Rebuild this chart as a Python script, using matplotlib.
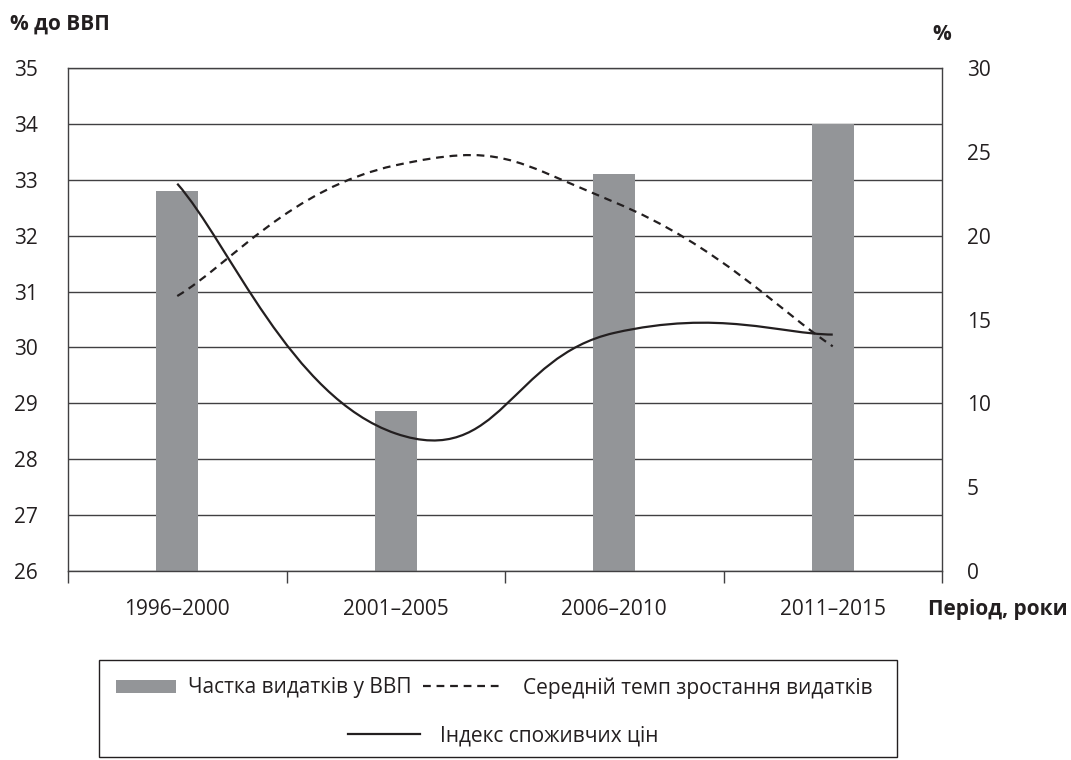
import matplotlib
matplotlib.use("Agg")
import matplotlib.pyplot as plt
from matplotlib.path import Path
from matplotlib.patches import PathPatch, Patch, Rectangle
from matplotlib.lines import Line2D

plt.rcParams['font.family'] = ['Open Sans', 'DejaVu Sans']

periods = ["1996–2000", "2001–2005", "2006–2010", "2011–2015"]
share_gdp = [32.8, 28.87, 33.1, 34.0]          # left axis, % до ВВП
growth_rate = [16.4, 24.2, 22.0, 13.4]         # right axis, %
cpi_index = [23.1, 8.2, 14.2, 14.1]            # right axis, %

bar_color = '#939598'
ink = '#231f20'
grid_color = '#414042'
fs = 15


def smooth_path(xs, ys, k=0.24):
    # bezier smoothing like the office chart "smoothed line"
    verts = [(xs[0], ys[0])]
    codes = [Path.MOVETO]
    n = len(xs)
    for i in range(n - 1):
        a = i - 1 if i > 0 else i
        b = i + 2 if i + 2 < n else i + 1
        c1 = (xs[i] + k * (xs[i + 1] - xs[a]), ys[i] + k * (ys[i + 1] - ys[a]))
        c2 = (xs[i + 1] - k * (xs[b] - xs[i]), ys[i + 1] - k * (ys[b] - ys[i]))
        verts += [c1, c2, (xs[i + 1], ys[i + 1])]
        codes += [Path.CURVE4] * 3
    return Path(verts, codes)


fig = plt.figure(figsize=(10.71, 7.6), dpi=100)
ax = fig.add_axes([68 / 1071, 1 - 571 / 760, 874 / 1071, 503 / 760])
ax2 = ax.twinx()

x = list(range(len(periods)))
ax.bar(x, share_gdp, width=0.19, color=bar_color, zorder=2)
ax.set_ylim(26, 35)
ax.set_yticks(range(26, 36))
ax.set_xlim(-0.5, 3.5)
ax.set_xticks(x, periods)
ax.set_xticks([-0.5, 0.5, 1.5, 2.5, 3.5], minor=True)
ax.set_axisbelow(True)
ax.yaxis.grid(True, color=grid_color, lw=1.0)
ax.tick_params(axis='x', which='major', length=0, pad=20, labelsize=fs, labelcolor=ink)
ax.tick_params(axis='x', which='minor', length=8.6, width=1.0, color=grid_color, direction='out')
ax.tick_params(axis='y', length=0, pad=22, labelsize=fs, labelcolor=ink)
for s in ax.spines.values():
    s.set_color(grid_color)
    s.set_linewidth(1.0)

ax2.set_ylim(0, 30)
ax2.set_yticks(range(0, 31, 5))
ax2.tick_params(axis='y', length=0, pad=18, labelsize=fs, labelcolor=ink)
for s in ax2.spines.values():
    s.set_visible(False)

ax2.add_patch(PathPatch(smooth_path(x, growth_rate), fill=False, ec=ink, lw=1.6,
                        linestyle=(0, (3.5, 2.6)), capstyle='butt'))
ax2.add_patch(PathPatch(smooth_path(x, cpi_index), fill=False, ec=ink, lw=1.6))

fig.text(10 / 1071, 1 - 24 / 760, "% до ВВП", fontsize=fs, fontweight='bold', color=ink,
         ha='left', va='center')
fig.text(942 / 1071, 1 - 35 / 760, "%", fontsize=fs, fontweight='bold', color=ink,
         ha='center', va='center')
fig.text(1068 / 1071, 1 - 609 / 760, "Період, роки", fontsize=fs, fontweight='bold', color=ink,
         ha='right', va='center')

# legend box with two rows
fig.add_artist(Rectangle((99 / 1071, 1 - 757 / 760), 798 / 1071, 97 / 760,
                         transform=fig.transFigure, fill=False, ec=ink, lw=1.0))
leg_items = [
    (Patch(facecolor=bar_color, edgecolor='none'), "Частка видатків у ВВП", 116, 688, 2.9, 0.58, 0.58),
    (Line2D([], [], color=ink, lw=1.6, linestyle=(0, (3.5, 2.6))),
     "Середній темп зростання видатків", 423, 688, 3.8, 0.7, 1.0),
    (Line2D([], [], color=ink, lw=1.6), "Індекс споживчих цін", 348, 736, 3.46, 0.7, 0.96),
]
for handle, label, lx, ly, hl, hh, tp in leg_items:
    fig.legend([handle], [label], loc='center left', bbox_to_anchor=(lx / 1071, 1 - ly / 760),
               frameon=False, fontsize=fs, handlelength=hl, handleheight=hh, handletextpad=tp,
               borderpad=0, borderaxespad=0, labelcolor=ink)

fig.savefig("out.png", dpi=100)
